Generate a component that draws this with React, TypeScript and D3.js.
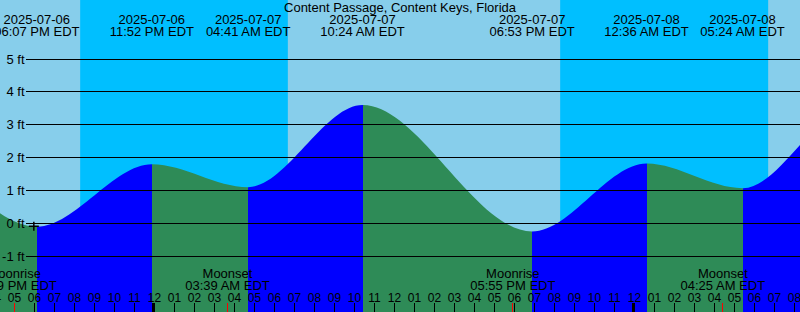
import React, { useEffect } from "react";
import * as d3 from "d3";

const title = "Content Passage, Content Keys, Florida";

// Tide extremes (local EDT). First two and last two lie outside the visible window.
const tideTimes = [
  "2025-07-06T04:00", "2025-07-06T09:20", "2025-07-06T18:07", "2025-07-06T23:52",
  "2025-07-07T04:41", "2025-07-07T10:24", "2025-07-07T18:53", "2025-07-08T00:36",
  "2025-07-08T05:24", "2025-07-08T11:00", "2025-07-08T19:30",
];
const tideHeights = [1.1, 3.5, -0.1, 1.8, 1.1, 3.6, -0.25, 1.82, 1.07, 3.6, -0.3];
const labeledTide = [2, 3, 4, 5, 6, 7, 8];

const nightStarts = ["2025-07-06T20:17", "2025-07-07T20:17"];
const nightEnds = ["2025-07-07T06:40", "2025-07-08T06:41"];

const moonTimes = ["2025-07-06T16:59", "2025-07-07T03:39", "2025-07-07T17:55", "2025-07-08T04:25"];
const moonKinds = ["Moonrise", "Moonset", "Moonrise", "Moonset"];

const nowTime = "2025-07-06T17:58";
const nowHeight = -0.09;

const yTicks = [-1, 0, 1, 2, 3, 4, 5];
const viewStart = "2025-07-06T16:16:30";
const viewEnd = "2025-07-08T08:16:30";

const W = 800;
const H = 312;
const FONT = "'Liberation Sans', Arial, Helvetica, sans-serif";

const parse = d3.timeParse("%Y-%m-%dT%H:%M");
const parseS = d3.timeParse("%Y-%m-%dT%H:%M:%S");
const fmtDate = d3.timeFormat("%Y-%m-%d");
const fmtTime = d3.timeFormat("%I:%M %p EDT");
const fmtHour = d3.timeFormat("%I");

export default function App() {
  useEffect(() => {
    document.body.style.margin = "0";
  }, []);

  const x = d3.scaleTime().domain([parseS(viewStart)!, parseS(viewEnd)!]).range([0, W]);
  const y = d3.scaleLinear().domain([-1, 5]).range([256.15, 59.05]);

  const tide = tideTimes.map((t, i) => ({ t: parse(t)!, h: tideHeights[i] }));
  const area = d3
    .area<{ t: Date; h: number }>()
    .x((d) => x(d.t))
    .y0(H)
    .y1((d) => y(d.h))
    .curve(d3.curveMonotoneX);
  const areaPath = area(tide) || "";

  const segments = tide.slice(0, -1).map((d, i) => {
    const next = tide[i + 1];
    const x0 = Math.max(-5, Math.round(x(d.t)));
    const x1 = Math.min(W + 5, Math.round(x(next.t)));
    return { x0, x1, rising: next.h > d.h, id: `seg${i}` };
  }).filter((s) => s.x1 > -5 && s.x0 < W + 5 && s.x1 > s.x0);

  const hours = d3.timeHour.range(d3.timeHour.offset(x.domain()[0], -1), x.domain()[1]);

  const nx = x(parse(nowTime)!);
  const ny = y(nowHeight);

  return (
    <svg width={W} height={H} style={{ display: "block", position: "absolute", left: 0, top: 0 }} fontFamily={FONT}>
      <defs>
        {segments.map((s) => (
          <clipPath key={s.id} id={s.id}>
            <rect x={s.x0} y={0} width={s.x1 - s.x0} height={H} />
          </clipPath>
        ))}
      </defs>
      <rect x={0} y={0} width={W} height={H} fill="#87CEEB" />
      {nightStarts.map((s, i) => {
        const a = x(parse(s)!);
        const b = x(parse(nightEnds[i])!);
        return <rect key={i} x={a} y={0} width={b - a} height={H} fill="#00BFFF" />;
      })}
      {segments.map((s) => (
        <path key={s.id} d={areaPath} fill={s.rising ? "#0000FF" : "#2E8B57"} clipPath={`url(#${s.id})`} />
      ))}
      {yTicks.map((v) => {
        const yy = Math.floor(y(v)) + 0.5;
        return (
          <g key={v}>
            <line x1={26} x2={W} y1={yy} y2={yy} stroke="#000" strokeWidth={1} />
            <text x={24.5} y={yy + 4.3} textAnchor="end" fontSize={13} fill="#000">
              {`${v} ft`}
            </text>
          </g>
        );
      })}
      <text x={W / 2} y={11.8} textAnchor="middle" fontSize={13} fill="#000">
        {title}
      </text>
      {labeledTide.map((i) => {
        const d = tide[i];
        const xx = x(d.t);
        return (
          <g key={i}>
            <text x={xx} y={24.3} textAnchor="middle" fontSize={13} fill="#000">
              {fmtDate(d.t)}
            </text>
            <text x={xx} y={36} textAnchor="middle" fontSize={13} fill="#000">
              {fmtTime(d.t)}
            </text>
          </g>
        );
      })}
      {moonTimes.map((m, i) => {
        const t = parse(m)!;
        const xx = x(t);
        return (
          <g key={m}>
            <text x={xx} y={278.3} textAnchor="middle" fontSize={13} fill="#000">
              {moonKinds[i]}
            </text>
            <text x={xx} y={290} textAnchor="middle" fontSize={13} fill="#000">
              {fmtTime(t)}
            </text>
          </g>
        );
      })}
      {hours.map((h) => {
        const xx = x(h);
        const midnight = h.getHours() === 0;
        return (
          <g key={h.getTime()}>
            {midnight ? (
              <rect x={Math.floor(xx) - 2} y={303} width={3} height={9} fill="#000" />
            ) : (
              <line x1={Math.floor(xx) + 0.5} x2={Math.floor(xx) + 0.5} y1={303} y2={H} stroke="#000" strokeWidth={1} />
            )}
            <text x={xx} y={301.7} textAnchor="middle" fontSize={12} fill="#000">
              {fmtHour(h)}
            </text>
          </g>
        );
      })}
      {moonTimes.map((m) => {
        const xx = Math.floor(x(parse(m)!)) + 0.5;
        return <line key={"r" + m} x1={xx} x2={xx} y1={303} y2={H} stroke="#FF0000" strokeWidth={1} />;
      })}
      <g stroke="#000" strokeWidth={1.5}>
        <line x1={nx - 5} x2={nx + 5} y1={ny} y2={ny} />
        <line x1={nx} x2={nx} y1={ny - 4.5} y2={ny + 4.5} />
      </g>
    </svg>
  );
}
